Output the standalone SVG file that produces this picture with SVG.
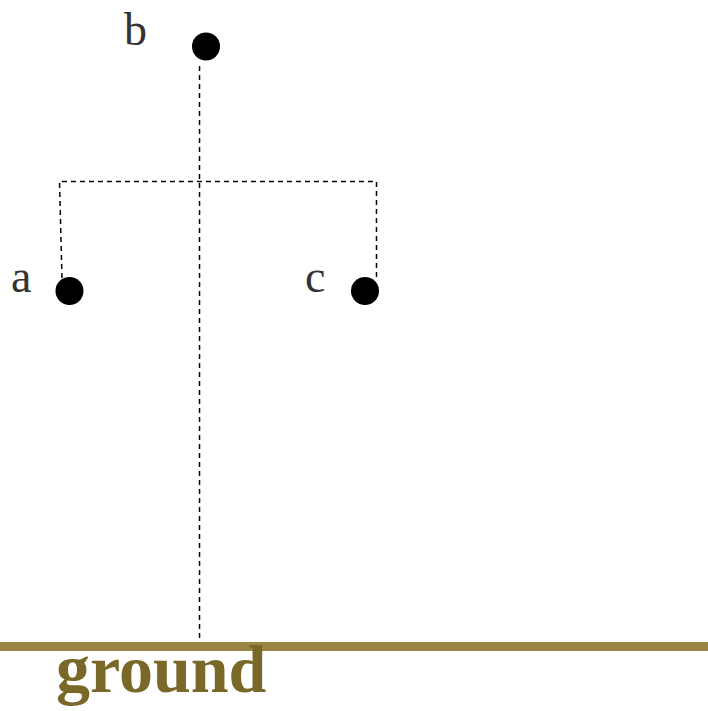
<svg xmlns="http://www.w3.org/2000/svg" width="708" height="711" viewBox="0 0 708 711">
  <style>
    .lbl { font-family: "Liberation Serif", "Times New Roman", serif; font-size: 46px; fill: #333333; }
    .dot { fill: #000000; }
    .dash { fill: none; stroke: #000000; stroke-width: 1.5; stroke-dasharray: 5 4; }
    .ground-line { stroke: #9a8546; stroke-width: 9; }
    .ground-txt { font-family: "Liberation Serif", "Times New Roman", serif; font-size: 68px; font-weight: bold; fill: #7a6828; }
  </style>
  <rect width="708" height="711" fill="#ffffff"/>

  <!-- connectors -->
  <g id="connectors">
    <line class="dash" x1="199.5" y1="66" x2="199.5" y2="643"/>
    <polyline class="dash" points="62,278 59.5,181.5 376.5,181.5 376.5,278"/>
  </g>

  <!-- ground -->
  <g id="ground">
    <line class="ground-line" x1="0" y1="646.5" x2="708" y2="646.5"/>
    <text class="ground-txt" x="56" y="692">ground</text>
  </g>

  <!-- nodes -->
  <g id="node-b">
    <circle class="dot" cx="206" cy="46.5" r="14"/>
    <text class="lbl" x="124" y="45">b</text>
  </g>
  <g id="node-a">
    <circle class="dot" cx="69.5" cy="291" r="14"/>
    <text class="lbl" x="11" y="292">a</text>
  </g>
  <g id="node-c">
    <circle class="dot" cx="365" cy="291" r="14"/>
    <text class="lbl" x="305" y="292">c</text>
  </g>
</svg>
